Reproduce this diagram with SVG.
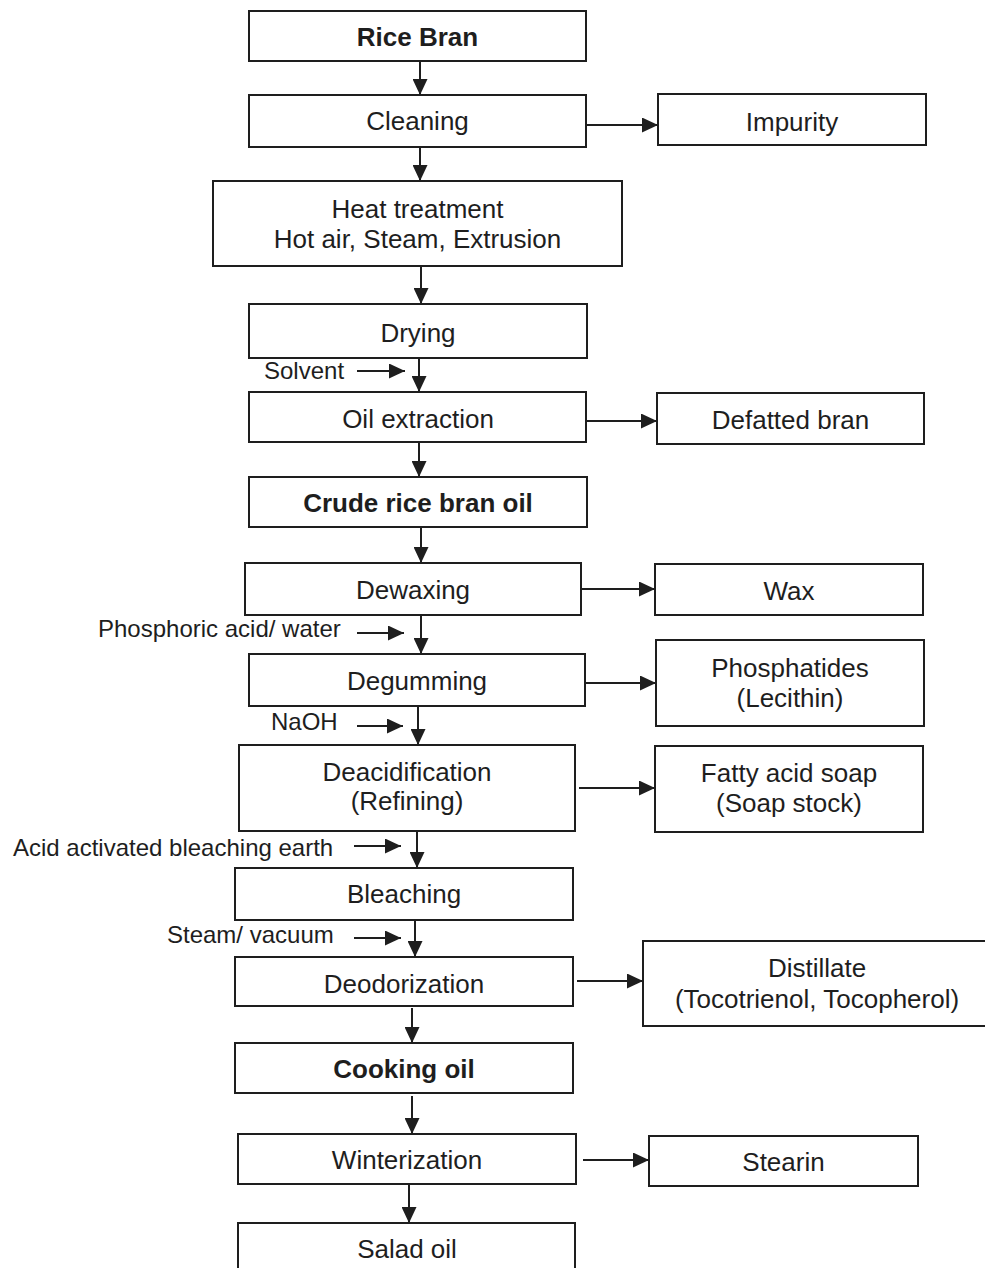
<svg xmlns="http://www.w3.org/2000/svg" width="985" height="1268" viewBox="0 0 985 1268">
<style>
.box{fill:#fff;stroke:#1e1e1e;stroke-width:2}
.t{font-family:"Liberation Sans",Arial,sans-serif;font-size:26px;fill:#1e1e1e;text-anchor:middle}
.b{font-weight:bold}
.s{font-family:"Liberation Sans",Arial,sans-serif;font-size:24px;fill:#1e1e1e}
.c{stroke:#1e1e1e;stroke-width:2;fill:none;marker-end:url(#ah)}
</style>
<defs>
<marker id="ah" markerUnits="userSpaceOnUse" markerWidth="17" markerHeight="15" refX="16" refY="7.5" orient="auto">
<path d="M0,0 L16,7.5 L0,15 z" fill="#1e1e1e"/>
</marker>
</defs>
<rect width="985" height="1268" fill="#fff"/>
<g id="connectors">
<line class="c" x1="420" y1="61" x2="420" y2="95"/>
<line class="c" x1="420" y1="147" x2="420" y2="181"/>
<line class="c" x1="421" y1="266" x2="421" y2="304"/>
<line class="c" x1="419" y1="358" x2="419" y2="392"/>
<line class="c" x1="419" y1="442" x2="419" y2="477"/>
<line class="c" x1="421" y1="527" x2="421" y2="563"/>
<line class="c" x1="421" y1="615" x2="421" y2="654"/>
<line class="c" x1="418" y1="706" x2="418" y2="745"/>
<line class="c" x1="417" y1="831" x2="417" y2="868"/>
<line class="c" x1="415" y1="920" x2="415" y2="957"/>
<line class="c" x1="412" y1="1008" x2="412" y2="1043"/>
<line class="c" x1="412" y1="1096" x2="412" y2="1134"/>
<line class="c" x1="409" y1="1184" x2="409" y2="1223"/>
<line class="c" x1="586" y1="125" x2="658" y2="125"/>
<line class="c" x1="586" y1="421" x2="657" y2="421"/>
<line class="c" x1="581" y1="589" x2="655" y2="589"/>
<line class="c" x1="585" y1="683" x2="656" y2="683"/>
<line class="c" x1="579" y1="788" x2="655" y2="788"/>
<line class="c" x1="577" y1="981" x2="643" y2="981"/>
<line class="c" x1="583" y1="1160" x2="649" y2="1160"/>
<line class="c" x1="357" y1="371" x2="405" y2="371"/>
<line class="c" x1="357" y1="633" x2="404" y2="633"/>
<line class="c" x1="357" y1="726" x2="403" y2="726"/>
<line class="c" x1="354" y1="846" x2="401" y2="846"/>
<line class="c" x1="354" y1="938" x2="401" y2="938"/>
</g>
<g id="rice-bran"><rect class="box" x="249" y="11" width="337" height="50"/><text class="t b" x="417.5" y="46">Rice Bran</text></g>
<g id="cleaning"><rect class="box" x="249" y="95" width="337" height="52"/><text class="t" x="417.5" y="130">Cleaning</text></g>
<g id="impurity"><rect class="box" x="658" y="94" width="268" height="51"/><text class="t" x="792" y="131">Impurity</text></g>
<g id="heat-treatment"><rect class="box" x="213" y="181" width="409" height="85"/><text class="t" x="417.5" y="218">Heat treatment</text><text class="t" x="417.5" y="248">Hot air, Steam, Extrusion</text></g>
<g id="drying"><rect class="box" x="249" y="304" width="338" height="54"/><text class="t" x="418" y="342">Drying</text></g>
<g id="solvent"><text class="s" x="264" y="379">Solvent</text></g>
<g id="oil-extraction"><rect class="box" x="249" y="392" width="337" height="50"/><text class="t" x="418" y="428">Oil extraction</text></g>
<g id="defatted-bran"><rect class="box" x="657" y="393" width="267" height="51"/><text class="t" x="790.5" y="429">Defatted bran</text></g>
<g id="crude-oil"><rect class="box" x="249" y="477" width="338" height="50"/><text class="t b" x="418" y="512">Crude rice bran oil</text></g>
<g id="dewaxing"><rect class="box" x="245" y="563" width="336" height="52"/><text class="t" x="413" y="599">Dewaxing</text></g>
<g id="wax"><rect class="box" x="655" y="564" width="268" height="51"/><text class="t" x="789" y="600">Wax</text></g>
<g id="phosphoric"><text class="s" x="98" y="637">Phosphoric acid/ water</text></g>
<g id="degumming"><rect class="box" x="249" y="654" width="336" height="52"/><text class="t" x="417" y="690">Degumming</text></g>
<g id="phosphatides"><rect class="box" x="656" y="640" width="268" height="86"/><text class="t" x="790" y="677">Phosphatides</text><text class="t" x="790" y="707">(Lecithin)</text></g>
<g id="naoh"><text class="s" x="271" y="730">NaOH</text></g>
<g id="deacidification"><rect class="box" x="239" y="745" width="336" height="86"/><text class="t" x="407" y="781">Deacidification</text><text class="t" x="407" y="810">(Refining)</text></g>
<g id="fatty-acid-soap"><rect class="box" x="655" y="746" width="268" height="86"/><text class="t" x="789" y="782">Fatty acid soap</text><text class="t" x="789" y="812">(Soap stock)</text></g>
<g id="bleaching-earth"><text class="s" x="13" y="856">Acid activated bleaching earth</text></g>
<g id="bleaching"><rect class="box" x="235" y="868" width="338" height="52"/><text class="t" x="404" y="903">Bleaching</text></g>
<g id="steam-vacuum"><text class="s" x="167" y="943">Steam/ vacuum</text></g>
<g id="deodorization"><rect class="box" x="235" y="957" width="338" height="49"/><text class="t" x="404" y="993">Deodorization</text></g>
<g id="distillate"><rect class="box" x="643" y="941" width="350" height="85"/><text class="t" x="817" y="977">Distillate</text><text class="t" x="817" y="1008">(Tocotrienol, Tocopherol)</text></g>
<g id="cooking-oil"><rect class="box" x="235" y="1043" width="338" height="50"/><text class="t b" x="404" y="1078">Cooking oil</text></g>
<g id="winterization"><rect class="box" x="238" y="1134" width="338" height="50"/><text class="t" x="407" y="1169">Winterization</text></g>
<g id="stearin"><rect class="box" x="649" y="1136" width="269" height="50"/><text class="t" x="783.5" y="1171">Stearin</text></g>
<g id="salad-oil"><rect class="box" x="238" y="1223" width="337" height="60"/><text class="t" x="407" y="1258">Salad oil</text></g>
</svg>
